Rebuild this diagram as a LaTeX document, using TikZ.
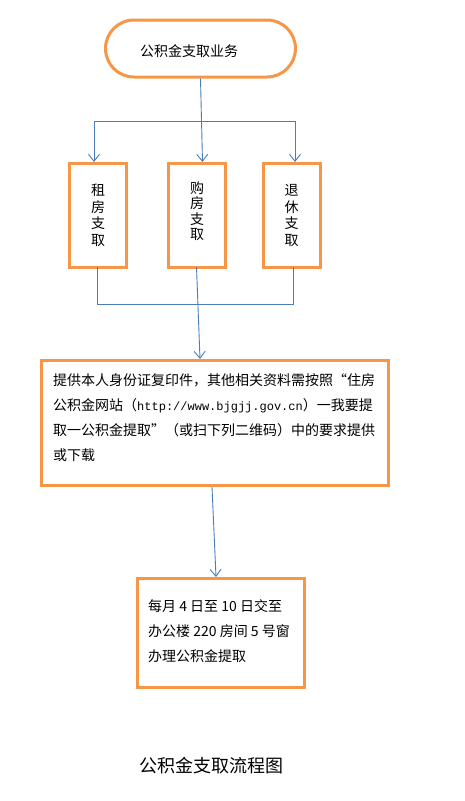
\documentclass[tikz,border=0pt]{standalone}
\usepackage{fontspec}
\setmainfont{Noto Sans CJK SC}
\newfontfamily\urlfont{Liberation Mono}
\usetikzlibrary{arrows.meta}
\definecolor{orng}{HTML}{F79646}
\definecolor{lineblue}{HTML}{4A7EBB}
\begin{document}
\begin{tikzpicture}[x=1pt,y=-1pt,
  obox/.style={draw=orng, line width=3pt, fill=white, inner sep=0pt},
  conn/.style={draw=lineblue, line width=0.9pt},
  arr/.style={conn, -{Straight Barb[length=7pt,width=11pt,line width=0.9pt]}},
  txt/.style={font=\fontsize{14}{25}\selectfont, inner sep=0pt, align=left},
  vtxt/.style={font=\fontsize{14}{16.5}\selectfont, align=center}]
\useasboundingbox[fill=white] (0,0) rectangle (464,801);
% top rounded box
\node[obox, rounded corners=28.5pt, minimum width=190pt, minimum height=57pt] (top) at (200.5,48.5) {};
\node[txt, anchor=west] (toptxt) at (140,51) {公积金支取业务};
% three boxes
\node[obox, vtxt, minimum width=57pt, minimum height=104pt] (left) at (98,215.5) {租\\房\\支\\取};
\node[obox, minimum width=57pt, minimum height=104pt] (mid) at (196.5,215.5) {};
\node[vtxt, font=\fontsize{14}{15.5}\selectfont] (midtxt) at (197,211) {购\\房\\支\\取};
\node[obox, vtxt, minimum width=57pt, minimum height=104pt] (right) at (291.5,215.5) {退\\休\\支\\取};
% big box
\node[obox, minimum width=347pt, minimum height=125pt] (big) at (215,423) {};
\node[txt, anchor=north west] (bigtxt) at (53,373) {提供本人身份证复印件，其他相关资料需按照“住房\\
公积金网站（{\urlfont\fontsize{12}{25}\selectfont http://www.bjgjj.gov.cn}）一我要提\\
取一公积金提取”（或扫下列二维码）中的要求提供\\
或下载};
% bottom box
\node[obox, minimum width=167pt, minimum height=109pt] (bot) at (221,633) {};
\node[txt, anchor=north west] (bottxt) at (148,599) {每月 4 日至 10 日交至\\
办公楼 220 房间 5 号窗\\
办理公积金提取};
% caption
\node[font=\fontsize{18}{18}\selectfont] (cap) at (211,766) {公积金支取流程图};
% connectors
\coordinate (hl) at (94,121);
\coordinate (hr) at (295,121);
\draw[arr] (top.south) -- ([xshift=6pt]mid.north);
\draw[conn] (hl) -- (hr);
\draw[arr] (hl) -- (hl |- left.north);
\draw[arr] (hr) -- (hr |- right.north);
\coordinate (bl) at (97,304);
\coordinate (br) at (293,304);
\draw[conn] ([yshift=2pt]left.south -| bl) -- (bl) -- (br) -- ([yshift=2pt]right.south -| br);
\draw[arr] ([yshift=2pt]mid.south) -- ([xshift=-15pt]big.north);
\draw[arr] ([xshift=-3pt]big.south) -- ([xshift=-5pt]bot.north);
\end{tikzpicture}
\end{document}
